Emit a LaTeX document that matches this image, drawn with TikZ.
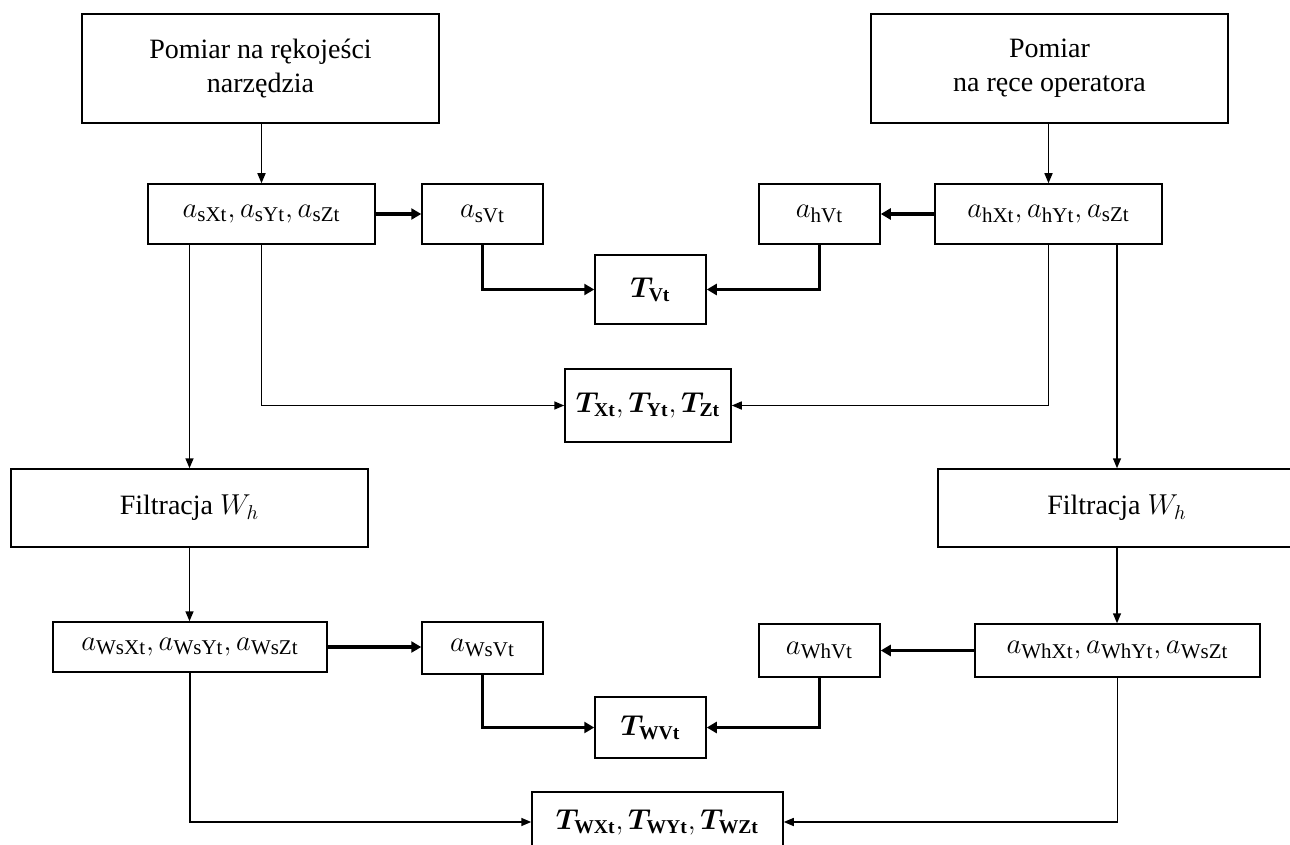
\documentclass[tikz,border=0pt]{standalone}
\usepackage{fontspec}
\setmainfont{Liberation Serif}
\usepackage{bm}
\usetikzlibrary{arrows.meta}
\begin{document}
\begin{tikzpicture}[x=0.5pt,y=-0.5pt,
  box/.style={draw, line width=0.75pt, inner sep=0pt, align=center, font=\fontsize{14}{17}\selectfont},
  abox/.style={box, font=\fontsize{15}{18}\selectfont},
  thinarr/.style={line width=0.75pt,-{Triangle[length=5pt,width=4pt]}},
  thickarr/.style={line width=1.9pt,-{Triangle[length=5pt,width=5.5pt]}}]
\useasboundingbox (0,0) rectangle (1290,845);
\clip (0,0) rectangle (1290,845);
% top boxes
\node[box, minimum width=178.5pt, minimum height=54.5pt] (b1) at (260.5,68.5) {Pomiar na rękojeści\\narzędzia};
\node[box, minimum width=178.5pt, minimum height=54.5pt] (b2) at (1049.5,68.5) {Pomiar\\na ręce operatora};
% first row
\node[abox, minimum width=113.5pt, minimum height=30pt] (as) at (261.5,214) {$a_{\mathrm{sXt}}, a_{\mathrm{sYt}}, a_{\mathrm{sZt}}$};
\node[abox, minimum width=113.5pt, minimum height=30pt] (ah) at (1048.5,214) {$a_{\mathrm{hXt}}, a_{\mathrm{hYt}}, a_{\mathrm{sZt}}$};
\node[abox, minimum width=60.5pt, minimum height=30pt] (asV) at (482.5,214) {$a_{\mathrm{sVt}}$};
\node[abox, minimum width=60.5pt, minimum height=30pt] (ahV) at (819.5,214) {$a_{\mathrm{hVt}}$};
\node[box, minimum width=55.5pt, minimum height=34.5pt] (TV) at (650.5,289.5) {$\bm{T}_{\mathbf{Vt}}$};
\node[box, minimum width=83pt, minimum height=36.5pt] (TXYZ) at (648,405.5) {$\bm{T}_{\mathbf{Xt}}, \bm{T}_{\mathbf{Yt}}, \bm{T}_{\mathbf{Zt}}$};
% filtration
\node[box, minimum width=178.5pt, minimum height=39pt] (F1) at (189.5,508) {Filtracja $W_h$};
\node[box, minimum width=179pt, minimum height=39pt] (F2) at (1117,508) {Filtracja $W_h$};
% second row
\node[abox, minimum width=137pt, minimum height=25pt] (aws) at (190,647) {$a_{\mathrm{WsXt}}, a_{\mathrm{WsYt}}, a_{\mathrm{WsZt}}$};
\node[abox, minimum width=142.5pt, minimum height=26.5pt] (awh) at (1117.5,650.5) {$a_{\mathrm{WhXt}}, a_{\mathrm{WhYt}}, a_{\mathrm{WsZt}}$};
\node[abox, minimum width=60.5pt, minimum height=26pt] (awsV) at (482.5,648) {$a_{\mathrm{WsVt}}$};
\node[abox, minimum width=60.5pt, minimum height=26.5pt] (awhV) at (819.5,650.5) {$a_{\mathrm{WhVt}}$};
\node[box, minimum width=55.5pt, minimum height=30.5pt] (TWV) at (650.5,727.5) {$\bm{T}_{\mathbf{WVt}}$};
\node[box, minimum width=125.5pt, minimum height=30pt] (TWXYZ) at (657.5,822) {$\bm{T}_{\mathbf{WXt}}, \bm{T}_{\mathbf{WYt}}, \bm{T}_{\mathbf{WZt}}$};
% connectors
\draw[thinarr] (b1.south -| as.north) -- (as.north);
\draw[thinarr] (b2.south -| ah.north) -- (ah.north);
\draw[thickarr] (as.east) -- (asV.west);
\draw[thickarr] (ah.west) -- (ahV.east);
\draw[thickarr] (asV.south) |- (TV.west);
\draw[thickarr] (ahV.south) |- (TV.east);
\draw[thinarr] (as.south) |- (TXYZ.west);
\draw[thinarr] (ah.south) |- (TXYZ.east);
\draw[thinarr] (as.south -| F1.north) -- (F1.north);
\draw[thinarr] (ah.south -| F2.north) -- (F2.north);
\draw[thinarr] (F1.south) -- (F1.south |- aws.north);
\draw[thinarr] (F2.south) -- (F2.south |- awh.north);
\draw[thickarr] (aws.east) -- (aws.east -| awsV.west);
\draw[thickarr] (awh.west) -- (awh.west -| awhV.east);
\draw[thickarr] (awsV.south) |- (TWV.west);
\draw[thickarr] (awhV.south) |- (TWV.east);
\draw[thinarr] (aws.south) |- (TWXYZ.west);
\draw[thinarr] (awh.south) |- (TWXYZ.east);
\end{tikzpicture}
\end{document}
